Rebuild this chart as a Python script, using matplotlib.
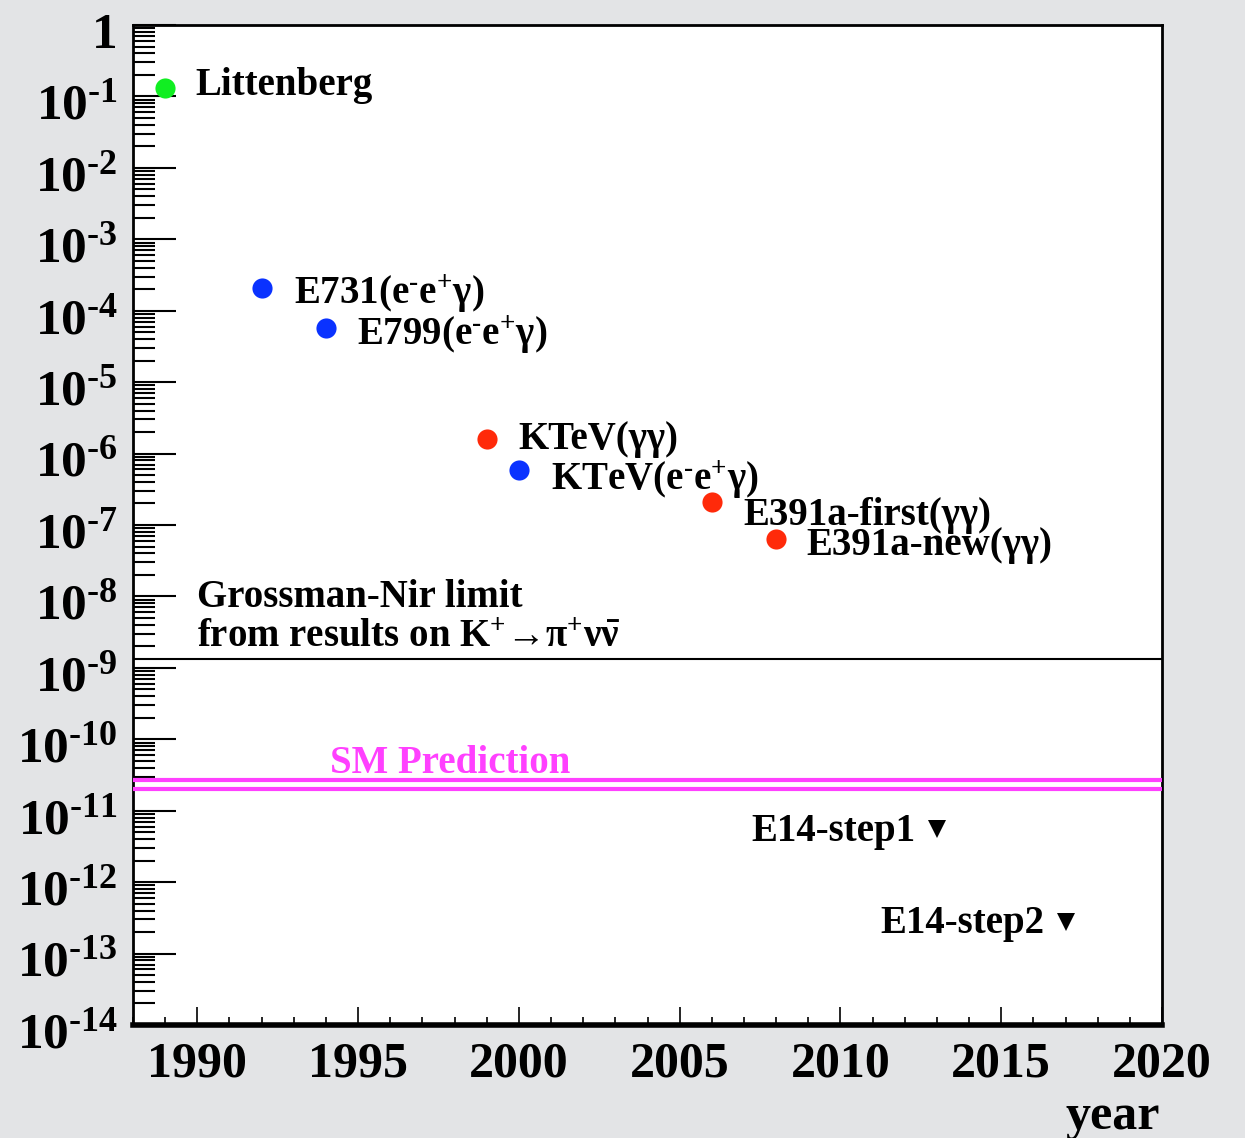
import matplotlib
matplotlib.use("Agg")
import matplotlib.pyplot as plt
import matplotlib.ticker as mticker
import matplotlib.transforms as mtrans
import numpy as np

# ---------------- data ----------------
years = [1989, 1992, 1994, 1999, 2000, 2006, 2008]
limits = [1.3e-1, 2.1e-4, 5.8e-5, 1.6e-6, 5.9e-7, 2.1e-7, 6.4e-8]
names = ['Littenberg', r'E731(e$^{\text{-}}$e$^{+}$γ)', r'E799(e$^{\text{-}}$e$^{+}$γ)', 'KTeV(γγ)',
         r'KTeV(e$^{\text{-}}$e$^{+}$γ)', 'E391a-first(γγ)', 'E391a-new(γγ)']
kinds = ['green', 'blue', 'blue', 'red', 'blue', 'red', 'red']

future_years = [2013, 2017]
future_limits = [5.6e-12, 2.8e-13]
future_names = ['E14-step1', 'E14-step2']

gn_limit = 1.35e-9
sm_band = [2.7e-11, 2.0e-11]

xticks_major = [1990, 1995, 2000, 2005, 2010, 2015, 2020]
ydecades = list(range(0, -15, -1))

# ---------------- style ----------------
plt.rcParams['font.family'] = ['Liberation Serif', 'DejaVu Serif']
plt.rcParams['font.weight'] = 'bold'
plt.rcParams['mathtext.fontset'] = 'custom'
plt.rcParams['mathtext.rm'] = 'Liberation Serif:bold'
plt.rcParams['mathtext.it'] = 'Liberation Serif:bold'
plt.rcParams['mathtext.bf'] = 'Liberation Serif:bold'
plt.rcParams['mathtext.default'] = 'regular'

colmap = {'green': '#11ee22', 'blue': '#0a32ff', 'red': '#ff2a0a'}
magenta = '#ff40ff'
bg = '#e3e4e6'

W, H = 1245, 1138
fig = plt.figure(figsize=(W / 100, H / 100), dpi=100, facecolor=bg)
ax = fig.add_axes([133 / W, 1 - 1025 / H, (1162 - 133) / W, (1025 - 25) / H])
ax.set_facecolor('white')

ax.set_yscale('log')
ax.set_xlim(1988, 2020)
ax.set_ylim(1e-14, 1)

# points
for x, y, k in zip(years, limits, kinds):
    ax.plot([x], [y], 'o', color=colmap[k], markersize=14.5, markeredgewidth=0, zorder=5)

label_offsets = [(21.5, -5), (23, -11.5), (22.5, -12.5), (23, -7.5), (23, -14.5), (23, -16.5), (22, -11.5)]
for x, y, n, off in zip(years, limits, names, label_offsets):
    ax.annotate(n, (x, y), xytext=off, textcoords='offset points', ha='left', va='baseline',
                fontsize=28, fontweight='bold', color='black')

for x, y, n in zip(future_years, future_limits, future_names):
    ax.plot([x], [y], 'v', color='black', markersize=13, markeredgewidth=0, zorder=5)
    ax.annotate(n, (x, y), xytext=(-15.5, -8.5), textcoords='offset points', ha='right', va='baseline',
                fontsize=28, fontweight='bold', color='black')

# Grossman-Nir line
ax.axhline(gn_limit, color='black', lw=1.5, zorder=3)
ax.annotate('Grossman-Nir limit', (1988, gn_limit), xytext=(46, 37), textcoords='offset points',
            ha='left', va='baseline', fontsize=28, fontweight='bold')
ax.annotate(r'from results on K$^{+}$→π$^{+}$ν$\bar{\nu}$', (1988, gn_limit), xytext=(46, 8.5),
            textcoords='offset points', ha='left', va='baseline', fontsize=28, fontweight='bold')

# SM band
for v in sm_band:
    ax.axhline(v, color=magenta, lw=3, zorder=3)
ax.annotate('SM Prediction', (1997.85, sm_band[0]), xytext=(0, 5), textcoords='offset points',
            ha='center', va='baseline', fontsize=28, fontweight='bold', color=magenta)

# ticks
ax.xaxis.set_major_locator(mticker.FixedLocator(xticks_major))
ax.xaxis.set_minor_locator(mticker.MultipleLocator(1))
ax.set_xticklabels([str(t) for t in xticks_major])
ax.yaxis.set_major_locator(mticker.FixedLocator([10.0 ** d for d in ydecades]))
ax.yaxis.set_minor_locator(mticker.LogLocator(base=10, subs=np.arange(2, 10), numticks=100))
ax.yaxis.set_minor_formatter(mticker.NullFormatter())
ax.set_yticklabels(['1' if d == 0 else r'10$^{\text{-}%d}$' % (-d) for d in ydecades])

ax.tick_params(axis='y', which='major', direction='in', length=31, width=1.5, left=True, right=False,
               labelsize=37, pad=11)
ax.tick_params(axis='y', which='minor', direction='in', length=16, width=1.5, left=True, right=False)
ax.tick_params(axis='x', which='major', direction='in', length=13, width=1.2, bottom=True, top=False,
               labelsize=36, pad=12)
ax.tick_params(axis='x', which='minor', direction='in', length=6, width=1.2, bottom=True, top=False)
shift = mtrans.ScaledTranslation(0, -5 / 100, fig.dpi_scale_trans)
for lab in ax.get_yticklabels():
    lab.set_fontweight('bold')
    lab.set_transform(lab.get_transform() + shift)
for lab in ax.get_xticklabels():
    lab.set_fontweight('bold')

for s in ['left', 'right', 'top']:
    ax.spines[s].set_linewidth(2)
ax.spines['bottom'].set_linewidth(4)

fig.text(1160 / W, 1 - 1129 / H, 'year', ha='right', va='baseline', fontsize=36, fontweight='bold')

fig.savefig('out.png', dpi=100, facecolor=bg)
